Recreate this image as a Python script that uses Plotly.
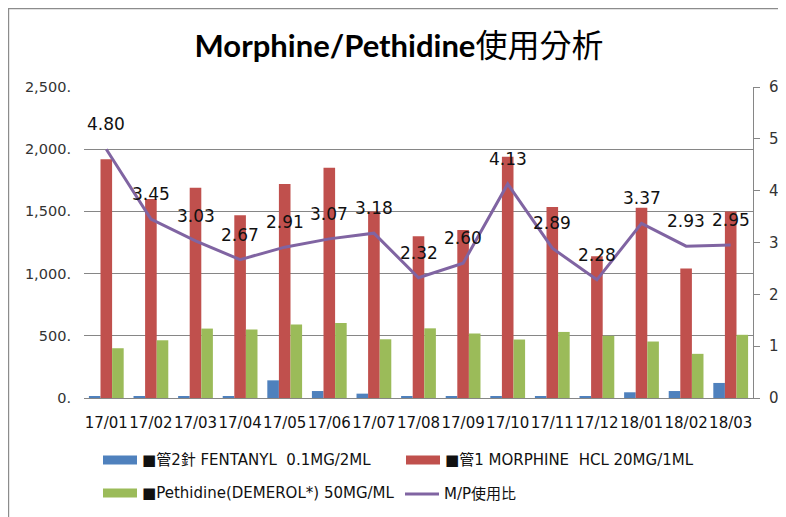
import plotly.graph_objects as go

months = ["17/01", "17/02", "17/03", "17/04", "17/05", "17/06", "17/07", "17/08",
          "17/09", "17/10", "17/11", "17/12", "18/01", "18/02", "18/03"]
fentanyl = [14, 14, 14, 14, 142, 56, 35, 14, 14, 14, 14, 14, 46, 56, 121]
morphine = [1920, 1600, 1690, 1470, 1720, 1850, 1500, 1300, 1350, 1940, 1535, 1140, 1530, 1040, 1500]
pethidine = [400, 464, 558, 551, 591, 603, 472, 560, 519, 470, 531, 500, 454, 355, 508]
mp_ratio = [4.80, 3.45, 3.03, 2.67, 2.91, 3.07, 3.18, 2.32, 2.60, 4.13, 2.89, 2.28, 3.37, 2.93, 2.95]

left_ticks = [0, 500, 1000, 1500, 2000, 2500]
left_ticktext = ["0.", "500.", "1,000.", "1,500.", "2,000.", "2,500."]

names = ["■管2針 FENTANYL\u00a0 0.1MG/2ML",
         "■管1 MORPHINE\u00a0 HCL 20MG/1ML",
         "■Pethidine(DEMEROL*) 50MG/ML",
         "M/P使用比"]
colors = ["#4F81BD", "#C0504D", "#9BBB59", "#8064A2"]

# the page has an 8px body margin, so the figure starts at screen (8, 8)
OFF = 8
W, H = 786 - OFF, 517 - OFF
# plot area in screen pixels
SL, SR, ST, SB = 84, 753, 87, 398
L, R, T, B = SL - OFF, SR - OFF, ST - OFF, SB - OFF
FONT = "DejaVu Sans, Noto Sans CJK TC"


def px_x(sx):
    return (sx - SL) / (SR - SL)


def px_y(sy):
    return (SB - sy) / (SB - ST)


fig = go.Figure()
for vals, nm, col in zip([fentanyl, morphine, pethidine], names[:3], colors[:3]):
    fig.add_trace(go.Bar(x=months, y=vals, name=nm, marker=dict(color=col, line=dict(width=0)),
                         showlegend=False))

fig.add_trace(go.Scatter(x=months, y=mp_ratio, name=names[3], yaxis="y2", mode="lines",
                         line=dict(color=colors[3], width=3), showlegend=False))

annotations = []
for m, r in zip(months, mp_ratio):
    annotations.append(dict(x=m, y=r, xref="x", yref="y2", text=f"{r:.2f}", showarrow=False,
                            yanchor="bottom", yshift=13,
                            font=dict(family=FONT, size=17, color="#111111")))

shapes = []
# outer chart border (left and top edges visible)
shapes.append(dict(type="rect", xref="paper", yref="paper",
                   x0=px_x(8.6), x1=px_x(800), y0=px_y(530), y1=px_y(8.6),
                   line=dict(color="#8C8C8C", width=1.2), fillcolor="rgba(0,0,0,0)", layer="below"))

# manual legend (screen pixel positions)
leg_font = dict(family=FONT, size=15, color="#111111")
leg_items = [
    (0, 103, 460, "bar"),
    (1, 406, 460, "bar"),
    (2, 103, 493, "bar"),
    (3, 405, 494, "line"),
]
for idx, lx, ly, kind in leg_items:
    if kind == "bar":
        shapes.append(dict(type="rect", xref="paper", yref="paper",
                           x0=px_x(lx), x1=px_x(lx + 34), y0=px_y(ly + 4.5), y1=px_y(ly - 4.5),
                           fillcolor=colors[idx], line=dict(width=0)))
    else:
        shapes.append(dict(type="line", xref="paper", yref="paper",
                           x0=px_x(lx), x1=px_x(lx + 34), y0=px_y(ly), y1=px_y(ly),
                           line=dict(color=colors[idx], width=3)))
    annotations.append(dict(x=px_x(lx + 38), y=px_y(ly), xref="paper", yref="paper",
                            text=names[idx], showarrow=False, xanchor="left", yanchor="middle",
                            xshift=-1, font=leg_font))

title_text = ("<b>Morphine/Pethidine</b>"
              "<span style=\"font-family:'Noto Sans CJK TC';font-size:32px;font-weight:400\">使用分析</span>")

fig.update_layout(
    width=W, height=H,
    margin=dict(l=L, r=W - R, t=T, b=H - B, pad=0, autoexpand=False),
    paper_bgcolor="white", plot_bgcolor="white",
    title=dict(text=title_text, x=(399 - OFF) / W, xanchor="center", y=1 - (46 - OFF) / H,
               yanchor="middle", font=dict(family="Lato", size=31, color="#000000")),
    barmode="group", bargap=0.22, bargroupgap=0,
    showlegend=False,
    xaxis=dict(type="category", showgrid=False, showline=True, linecolor="#868686", linewidth=1,
               ticks="", tickangle=0, automargin=False,
               tickfont=dict(family=FONT, size=15, color="#111111"),
               ticklabelstandoff=11),
    yaxis=dict(range=[0, 2500], tickvals=left_ticks, ticktext=left_ticktext, automargin=False,
               showgrid=True, gridcolor="#868686", gridwidth=1, zeroline=False, showline=False,
               ticks="", ticklabelstandoff=12,
               tickfont=dict(family=FONT, size=14.5, color="#333333")),
    yaxis2=dict(range=[0, 6], dtick=1, overlaying="y", side="right", showgrid=False,
                automargin=False,
                zeroline=False, showline=True, linecolor="#868686", linewidth=1,
                ticks="outside", ticklen=6, tickcolor="#868686", ticklabelstandoff=6,
                tickfont=dict(family=FONT, size=15, color="#333333")),
    annotations=annotations,
    shapes=shapes,
)

fig.write_html("out.html")
